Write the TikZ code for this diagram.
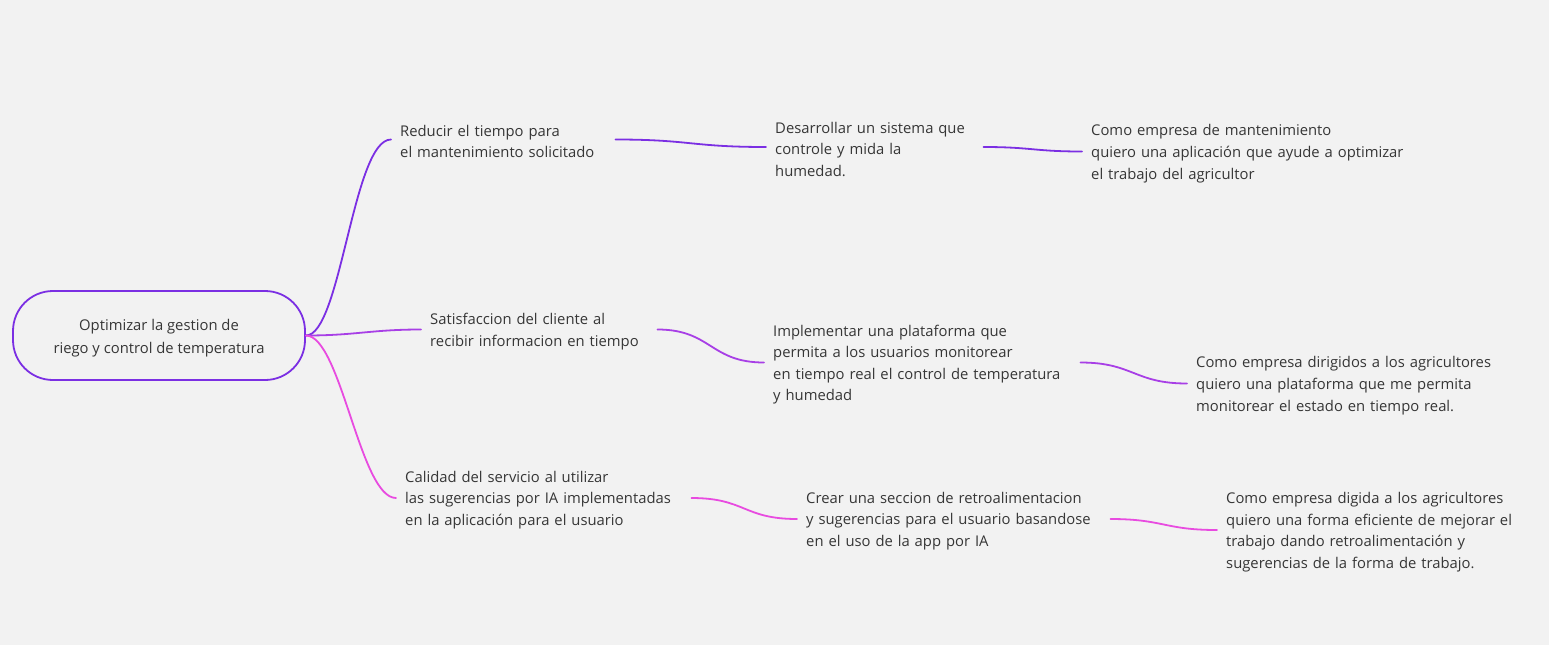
\documentclass[tikz,border=0pt]{standalone}
\usepackage{fontspec}
\setmainfont{Open Sans}
\definecolor{bg}{HTML}{F2F2F2}
\definecolor{txt}{HTML}{363636}
\definecolor{brA}{HTML}{7B2FE3}
\definecolor{brB}{HTML}{A83FE6}
\definecolor{brC}{HTML}{E84BE0}
\tikzset{
  lbl/.style={anchor=west, align=left, inner xsep=9pt, inner ysep=0pt, text=txt,
    font=\fontsize{14.8}{21.6}\selectfont,
    execute at begin node={\rule{0pt}{15.5pt}}},
  rootbox/.style={draw=brA, line width=1.8pt, rounded corners=40pt, minimum width=292pt,
    minimum height=89pt, align=center, text=txt, font=\fontsize{14.8}{23}\selectfont},
  conn/.style={line width=1.8pt, line cap=round},
}
\begin{document}
\begin{tikzpicture}[x=1pt,y=-1pt]
\fill[bg] (0,0) rectangle (1549,645);
\useasboundingbox (0,0) rectangle (1549,645);

\node[rootbox] (root) at (159,335.5) {\rule{0pt}{16pt}Optimizar la gestion de\\riego y control de temperatura};

\node[lbl, text width=206pt] (a1) at (391,139.5) {Reducir el tiempo para\\el mantenimiento solicitado};
\node[lbl, text width=199pt] (b1) at (766,147) {Desarrollar un sistema que\\controle y mida la\\humedad.};
\node[lbl, text width=330pt] (c1) at (1082,151.5) {Como empresa de mantenimiento\\quiero una aplicación que ayude a optimizar\\el trabajo del agricultor};

\node[lbl, text width=218pt] (a2) at (421,329.5) {Satisfaccion del cliente al\\recibir informacion en tiempo};
\node[lbl, text width=298pt] (b2) at (764,362.5) {Implementar una plataforma que\\permita a los usuarios monitorear\\en tiempo real el control de temperatura\\y humedad};
\node[lbl, text width=320pt] (c2) at (1187,383.5) {Como empresa dirigidos a los agricultores\\quiero una plataforma que me permita\\monitorear el estado en tiempo real.};

\node[lbl, text width=277pt] (a3) at (396,498) {Calidad del servicio al utilizar\\las sugerencias por IA implementadas\\en la aplicación para el usuario};
\node[lbl, text width=295pt] (b3) at (797,519) {Crear una seccion de retroalimentacion\\y sugerencias para el usuario basandose\\en el uso de la app por IA};
\node[lbl, text width=310pt] (c3) at (1217,530) {Como empresa digida a los agricultores\\quiero una forma eficiente de mejorar el\\trabajo dando retroalimentación y\\sugerencias de la forma de trabajo.};

% root connectors
\draw[conn, brA] (root.east) .. controls +(35,0) and +(-38,0) .. (a1.west);
\draw[conn, brB] (root.east) .. controls +(50,0) and +(-50,0) .. (a2.west);
\draw[conn, brC] (root.east) .. controls +(35,0) and +(-36,0) .. (a3.west);

% level 1 -> 2
\draw[conn, brA] (a1.east) .. controls +(75,0) and +(-75,0) .. (b1.west);
\draw[conn, brB] (a2.east) .. controls +(54,0) and +(-54,0) .. (b2.west);
\draw[conn, brC] (a3.east) .. controls +(54,0) and +(-54,0) .. (b3.west);

% level 2 -> 3
\draw[conn, brA] (b1.east) .. controls +(48,0) and +(-48,0) .. (c1.west);
\draw[conn, brB] (b2.east) .. controls +(53,0) and +(-53,0) .. (c2.west);
\draw[conn, brC] (b3.east) .. controls +(53,0) and +(-53,0) .. (c3.west);
\end{tikzpicture}
\end{document}
